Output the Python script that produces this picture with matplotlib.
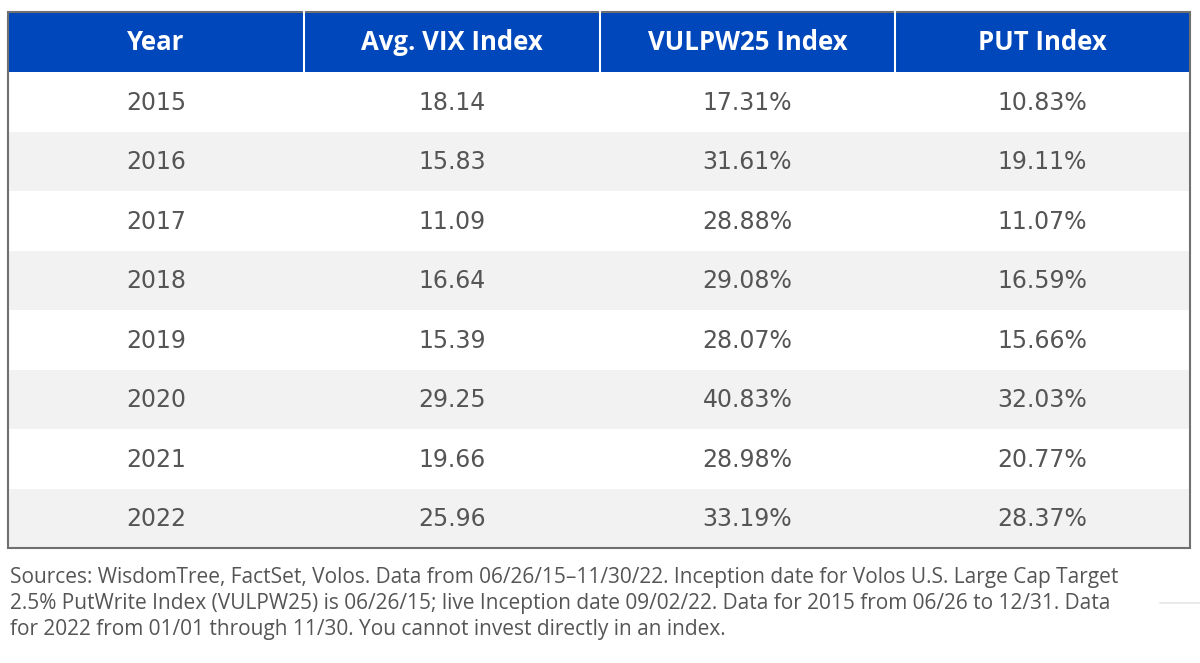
import matplotlib
matplotlib.use("Agg")
import matplotlib.pyplot as plt
from matplotlib.patches import Rectangle

# ---- data ----
columns = ["Year", "Avg. VIX Index", "VULPW25 Index", "PUT Index"]
years = ["2015", "2016", "2017", "2018", "2019", "2020", "2021", "2022"]
avg_vix = ["18.14", "15.83", "11.09", "16.64", "15.39", "29.25", "19.66", "25.96"]
vulpw25 = ["17.31%", "31.61%", "28.88%", "29.08%", "28.07%", "40.83%", "28.98%", "33.19%"]
put_index = ["10.83%", "19.11%", "11.07%", "16.59%", "15.66%", "32.03%", "20.77%", "28.37%"]
footnote_lines = [
    "Sources: WisdomTree, FactSet, Volos. Data from 06/26/15\u201311/30/22. Inception date for Volos U.S. Large Cap Target",
    "2.5% PutWrite Index (VULPW25) is 06/26/15; live Inception date 09/02/22. Data for 2015 from 06/26 to 12/31. Data",
    "for 2022 from 01/01 through 11/30. You cannot invest directly in an index.",
]

# ---- layout (pixels) ----
W, H = 1200, 663
left, right = 8, 1190
top, header_bottom = 12, 72
row_h = 59.5
col_edges = [left, 304, 600, 895, right]

BLUE = "#0047BB"
GRAY_ROW = "#F2F2F2"
BORDER = "#707070"
TEXT = "#555555"

fig = plt.figure(figsize=(W / 100, H / 100), dpi=100)
ax = fig.add_axes([0, 0, 1, 1])
ax.set_xlim(0, W)
ax.set_ylim(H, 0)
ax.axis("off")

# faint background rule at right edge
ax.plot([1160, 1200], [603, 603], color="#E6E6E6", lw=1.2)

# header
ax.add_patch(Rectangle((left, top), right - left, header_bottom - top, facecolor=BLUE, edgecolor="none"))
for x in col_edges[1:-1]:
    ax.plot([x, x], [top, header_bottom], color="white", lw=1.5)
for i, name in enumerate(columns):
    cx = (col_edges[i] + col_edges[i + 1]) / 2
    ax.text(cx, (top + header_bottom) / 2 + 1, name, ha="center", va="center",
            color="white", fontsize=18.5, fontweight="bold", family="Open Sans")

# rows
table_rows = list(zip(years, avg_vix, vulpw25, put_index))
for r, row in enumerate(table_rows):
    y0 = header_bottom + r * row_h
    if r % 2 == 1:
        ax.add_patch(Rectangle((left, y0), right - left, row_h, facecolor=GRAY_ROW, edgecolor="none"))
    for i, val in enumerate(row):
        cx = (col_edges[i] + col_edges[i + 1]) / 2
        ax.text(cx, y0 + row_h / 2 + 1, val, ha="center", va="center",
                color=TEXT, fontsize=17, family="DejaVu Sans")

bottom = header_bottom + len(table_rows) * row_h
ax.add_patch(Rectangle((left, top), right - left, bottom - top, facecolor="none",
                       edgecolor=BORDER, lw=1.5))

# footnote
for k, line in enumerate(footnote_lines):
    ax.text(10, 578 + k * 25.5, line, ha="left", va="center", color=TEXT,
            fontsize=15, family="Open Sans")

fig.savefig("out.png", dpi=100)
